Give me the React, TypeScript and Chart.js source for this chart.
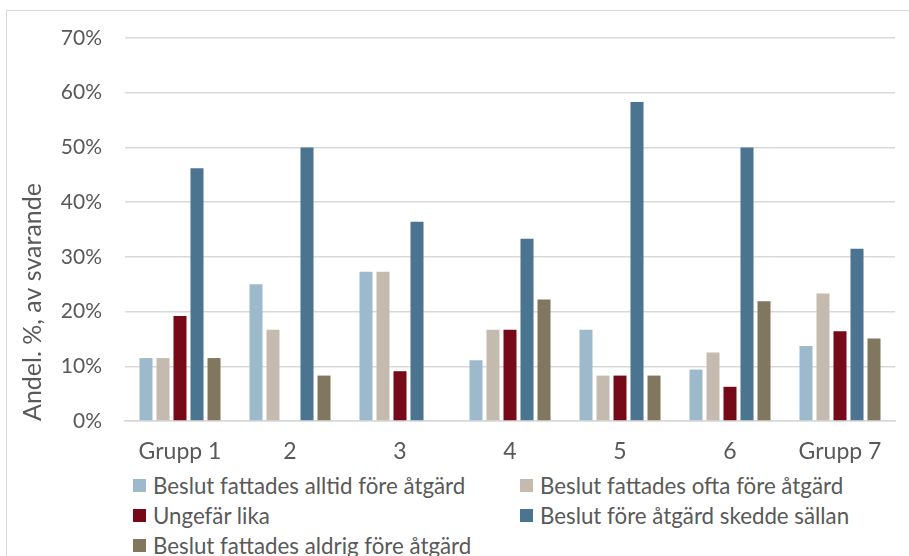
import React, { useEffect, useRef } from "react";
import { Chart, registerables } from "chart.js";

Chart.register(...registerables);

const categories = ["Grupp 1", "2", "3", "4", "5", "6", "Grupp 7"];
const seriesNames = [
  "Beslut fattades alltid före åtgärd",
  "Beslut fattades ofta före åtgärd",
  "Ungefär lika",
  "Beslut före åtgärd skedde sällan",
  "Beslut fattades aldrig före åtgärd",
];
const alltid = [11.5, 25.0, 27.3, 11.1, 16.7, 9.4, 13.7];
const ofta = [11.5, 16.7, 27.3, 16.7, 8.3, 12.5, 23.3];
const ungefar = [19.2, 0, 9.1, 16.7, 8.3, 6.25, 16.4];
const sallan = [46.2, 50.0, 36.4, 33.3, 58.3, 50.0, 31.5];
const aldrig = [11.5, 8.3, 0, 22.2, 8.3, 21.9, 15.1];
const seriesValues = [alltid, ofta, ungefar, sallan, aldrig];
const colors = ["#9DB9CC", "#C4BAAD", "#770A18", "#4A748F", "#81765E"];
const yTicks = [0, 10, 20, 30, 40, 50, 60, 70];
const yTitle = "Andel. %, av svarande";

const FONT = "Lato, 'Open Sans', sans-serif";
const TEXT = "#595959";

export default function App() {
  const ref = useRef<HTMLCanvasElement | null>(null);
  useEffect(() => {
    if (!ref.current) return;
    const chart = new Chart(ref.current, {
      type: "bar",
      data: {
        labels: categories,
        datasets: seriesNames.map((n, i) => ({
          label: n,
          data: seriesValues[i],
          backgroundColor: colors[i],
          borderWidth: 0,
          categoryPercentage: 0.773,
          barPercentage: 0.765,
        })),
      },
      options: {
        animation: false,
        responsive: false,
        maintainAspectRatio: false,
        layout: { padding: { left: 0, top: 38, right: 14, bottom: 0 } },
        plugins: { legend: { display: false }, tooltip: { enabled: false } },
        scales: {
          x: {
            grid: { display: false, drawTicks: false },
            border: { display: true, color: "#D9D9D9", width: 1.5 },
            ticks: {
              color: TEXT,
              font: { family: FONT, size: 23 },
              padding: 17,
              maxRotation: 0,
              autoSkip: false,
            },
            afterFit: (s: any) => {
              s.height = 49;
            },
          },
          y: {
            min: 0,
            max: 70,
            afterBuildTicks: (s: any) => {
              s.ticks = yTicks.map((v) => ({ value: v }));
            },
            grid: { color: "#D9D9D9", lineWidth: 1.5, drawTicks: false },
            border: { display: false },
            ticks: {
              color: TEXT,
              font: { family: FONT, size: 21 },
              padding: 23,
              callback: (v: any) => v + "%",
            },
            title: {
              display: true,
              text: yTitle,
              color: TEXT,
              align: "start",
              font: { family: FONT, size: 25, weight: "normal" },
              padding: { top: 18, bottom: 0 },
            },
            afterFit: (s: any) => {
              s.width = 125;
            },
          },
        },
      },
    });
    return () => chart.destroy();
  }, []);

  const legendRows = [
    [0, 1],
    [2, 3],
    [4],
  ];

  return (
    <div
      style={{
        position: "fixed",
        left: 0,
        top: 0,
        width: 909,
        height: 556,
        overflow: "hidden",
        background: "#fff",
      }}
    >
      <div
        style={{
          position: "absolute",
          left: 6,
          top: 10,
          width: 1000,
          height: 1000,
          border: "1.5px solid #D9D9D9",
        }}
      />
      <canvas
        ref={ref}
        width={909}
        height={470}
        style={{ position: "absolute", left: 0, top: 0, width: 909, height: 470 }}
      />
      {legendRows.map((row, r) =>
        row.map((si, c) => (
          <div
            key={si}
            style={{
              position: "absolute",
              left: c === 0 ? 133 : 520,
              top: 486 + r * 30 - 16,
              height: 30,
              display: "flex",
              alignItems: "center",
              whiteSpace: "nowrap",
              fontFamily: FONT,
              fontSize: 22.3,
              color: TEXT,
            }}
          >
            <span
              style={{
                display: "inline-block",
                width: 13,
                height: 13,
                background: colors[si],
                marginRight: 7,
              }}
            />
            <span>{seriesNames[si]}</span>
          </div>
        ))
      )}
    </div>
  );
}
